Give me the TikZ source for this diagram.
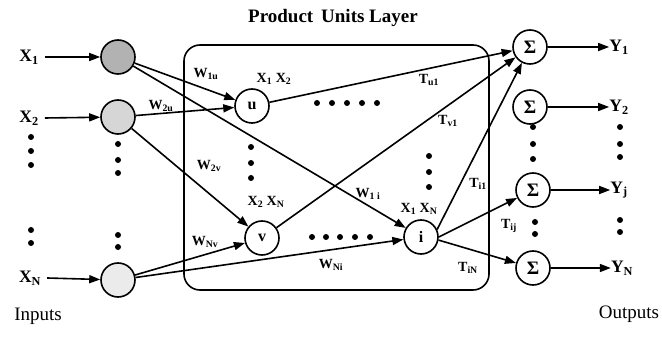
\documentclass[tikz,border=0pt]{standalone}
\usepackage{fontspec}
\setmainfont{Liberation Serif}
\usetikzlibrary{arrows.meta}
\newcommand\sbs[1]{\textsubscript{#1}}
\tikzset{
  unit/.style={circle,draw,line width=1.6pt,minimum size=34pt,inner sep=0pt,font=\fontsize{16}{16}\selectfont\bfseries},
  sumunit/.style={unit,font=\fontsize{19}{19}\selectfont\bfseries},
  wire/.style={line width=1.6pt,-{Triangle[length=11pt,width=8pt]}},
  lbl/.style={font=\fontsize{17.5}{17.5}\selectfont\bfseries,inner sep=0pt},
  wlbl/.style={font=\fontsize{14}{14}\selectfont\bfseries,inner sep=0pt},
  caption/.style={font=\fontsize{19}{19}\selectfont},
  dot/.style={circle,fill,inner sep=0pt,minimum size=6pt},
}
\begin{document}
\begin{tikzpicture}[x=1pt,y=-1pt]
\useasboundingbox (0,0) rectangle (662,339);

% product units layer frame
\draw[line width=1.6pt,rounded corners=16pt] (184,45) rectangle (489,290);
\node[font=\fontsize{19}{19}\selectfont\bfseries] (title) at (333,18) {Product\,\ Units Layer};

% input units
\node[unit,fill=gray!60] (in1) at (118,57) {};
\node[unit,fill=gray!32] (in2) at (118,117) {};
\node[unit,fill=gray!16] (inN) at (118,280) {};

% input labels
\node[lbl] (x1) at (29,57) {X\sbs{1}};
\node[lbl] (x2) at (29,118) {X\sbs{2}};
\node[lbl] (xN) at (30,278) {X\sbs{N}};
\draw[wire] (x1.east) ++(6,0) coordinate (x1s) -- (in1);
\draw[wire] (x2.east) ++(6,0) coordinate (x2s) -- (in2);
\draw[wire] (xN.east) ++(6,0) coordinate (xNs) -- (inN);

% product units
\node[unit] (u) at (252,106) {u};
\node[unit] (v) at (262,238) {v};
\node[unit] (i) at (421,237) {i};

% summation units
\node[sumunit] (s1) at (530,47) {Σ};
\node[sumunit] (s2) at (530,107) {Σ};
\node[sumunit] (sj) at (533,190) {Σ};
\node[sumunit] (sN) at (533,268) {Σ};

% output labels
\node[lbl] (y1) at (619,47) {Y\sbs{1}};
\node[lbl] (y2) at (619,107) {Y\sbs{2}};
\node[lbl] (yj) at (619,190) {Y\sbs{j}};
\node[lbl] (yN) at (622,268) {Y\sbs{N}};
\draw[wire] (s1) -- (y1.west);
\draw[wire] (s2) -- (y2.west);
\draw[wire] (sj) -- (yj.west);
\draw[wire] (sN) -- (yN.west);

% input-to-product weights
\draw[wire] (in1) -- (u);
\draw[wire] (in1) -- (i);
\draw[wire] (in2) -- (u);
\draw[wire] (in2) -- (v);
\draw[wire] (inN) -- (v);
\draw[wire] (inN) -- (i);

% product-to-summation weights
\draw[wire] (u) -- (s1);
\draw[wire] (v) -- (s1);
\draw[wire] (i.25) -- (s1);
\draw[wire] (i.east) -- (sj);
\draw[wire] (i.-10) -- (sN);

% weight labels
\node[wlbl] (w1u) at (206,74) {W\sbs{1u}};
\node[wlbl] (w2u) at (161,106) {W\sbs{2u}};
\node[wlbl] (w2v) at (209,166) {W\sbs{2v}};
\node[wlbl] (wNv) at (205,242) {W\sbs{Nv}};
\node[wlbl] (wNi) at (331,265) {W\sbs{Ni}};
\node[wlbl] (w1i) at (368,194) {W\sbs{1 i}};
\node[wlbl] (tu1) at (429,80) {T\sbs{u1}};
\node[wlbl] (tv1) at (448,121) {T\sbs{v1}};
\node[wlbl] (ti1) at (478,184) {T\sbs{i1}};
\node[wlbl] (tij) at (509,226) {T\sbs{ij}};
\node[wlbl] (tiN) at (468,268) {T\sbs{iN}};

% product terms
\node[wlbl] (pu) at (274,79) {X\sbs{1} X\sbs{2}};
\node[wlbl] (pv) at (266,202) {X\sbs{2} X\sbs{N}};
\node[wlbl] (pi) at (419,209) {X\sbs{1} X\sbs{N}};

% ellipsis dots
\foreach \y [count=\k] in {137,151,165,230,243} \node[dot] (dx\k) at (31,\y) {};
\foreach \y [count=\k] in {144,160,173,235,247} \node[dot] (din\k) at (118,\y) {};
\foreach \y [count=\k] in {147,163,178} \node[dot] (du\k) at (251,\y) {};
\foreach \y [count=\k] in {156,172,187} \node[dot] (di\k) at (429,\y) {};
\foreach \x [count=\k] in {317,332,347,362,377} \node[dot] (dh\k) at (\x,103) {};
\foreach \x [count=\k] in {312,326,340,355,370} \node[dot] (dl\k) at (\x,237) {};
\foreach \y [count=\k] in {127,144,159} \node[dot] (ds\k) at (533,\y) {};
\foreach \y [count=\k] in {127,144,157} \node[dot] (dy\k) at (620,\y) {};
\foreach \y [count=\k] in {222,234} \node[dot] (dsj\k) at (535,\y) {};
\foreach \y [count=\k] in {220,232} \node[dot] (dyj\k) at (620,\y) {};

% side captions
\node[caption] (inputs) at (38,316) {Inputs};
\node[caption] (outputs) at (629,314) {Outputs};
\end{tikzpicture}
\end{document}
